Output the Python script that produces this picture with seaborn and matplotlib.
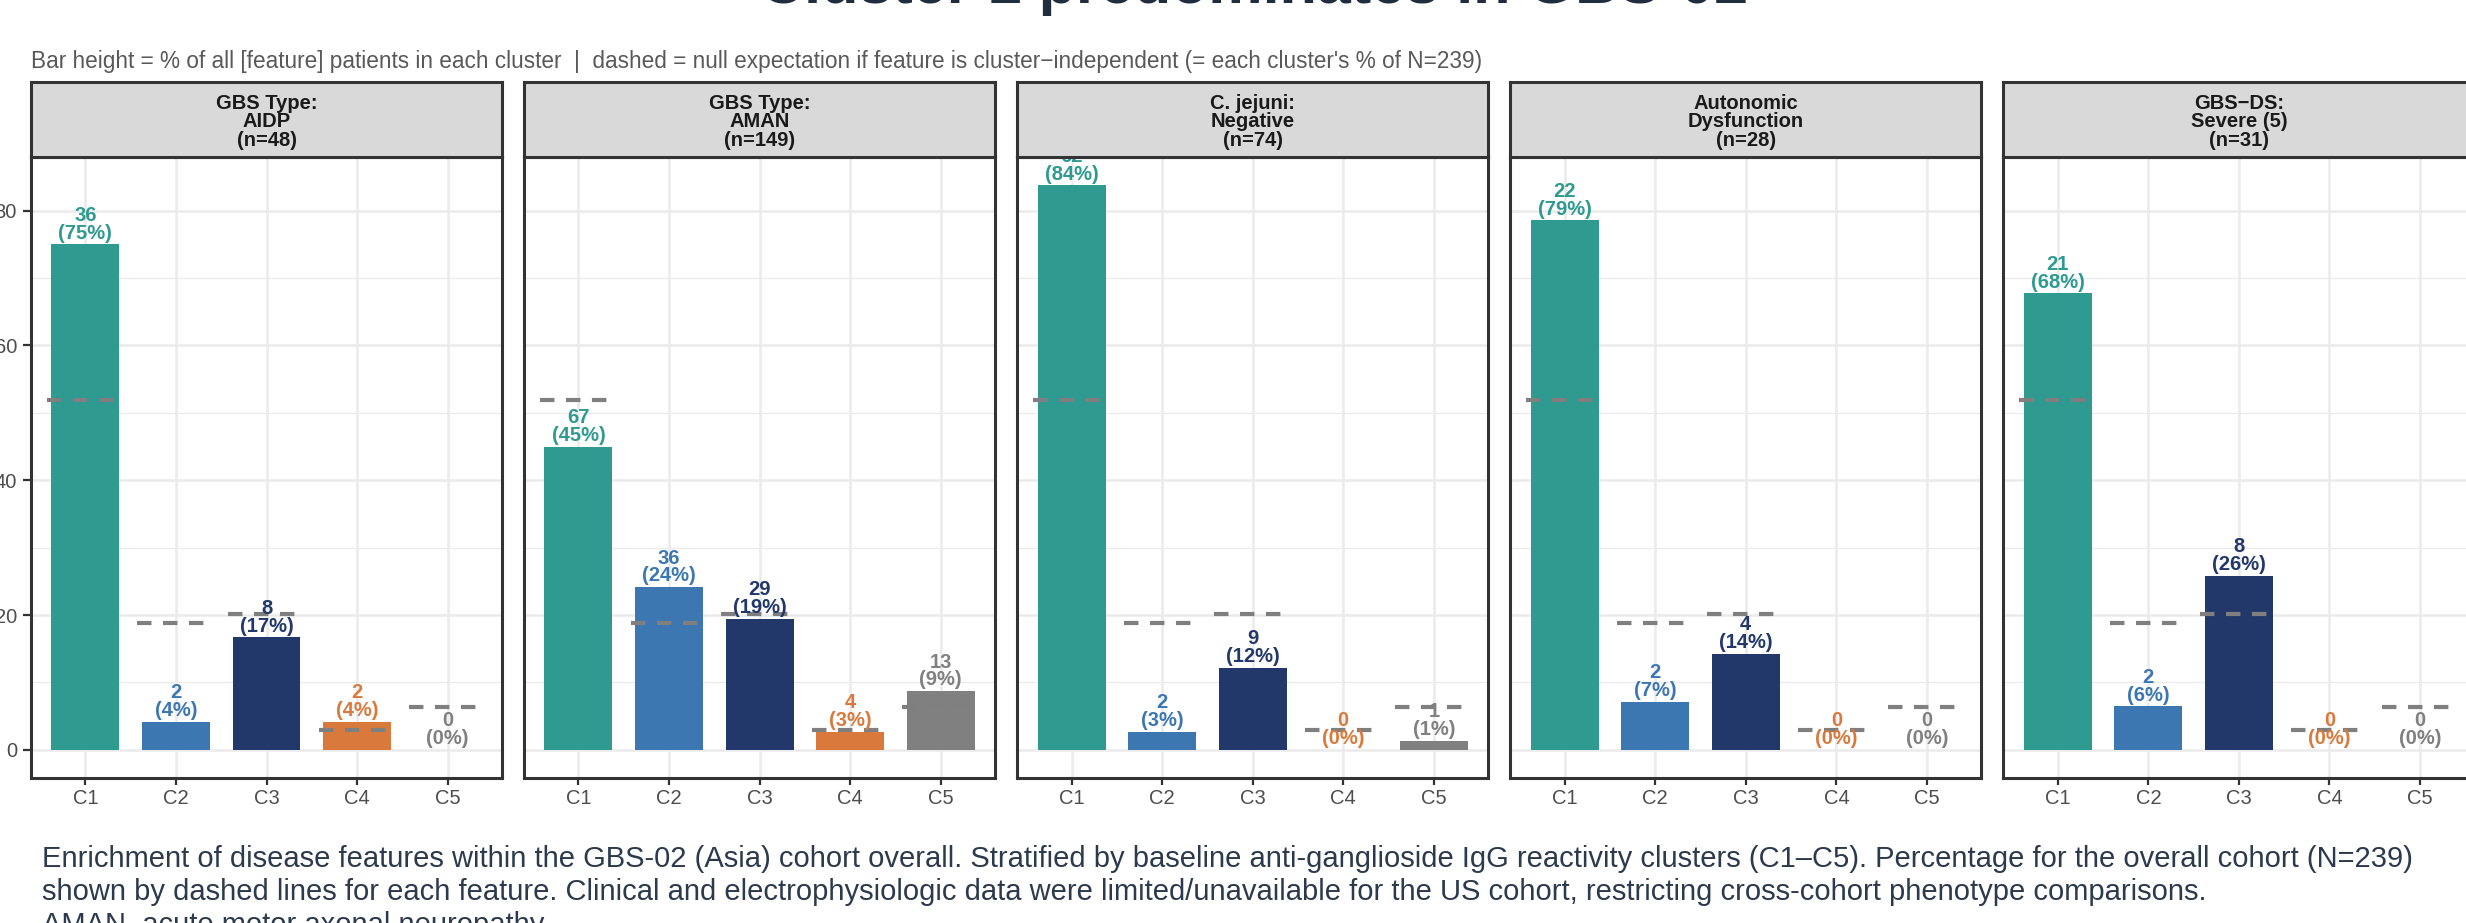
import numpy as np
import pandas as pd
import matplotlib
matplotlib.use("Agg")
import matplotlib.pyplot as plt
import seaborn as sns

# ---- data -------------------------------------------------------------
clusters = ["C1", "C2", "C3", "C4", "C5"]
cluster_colors = ["#2E9A90", "#3D77B2", "#22386A", "#D97A3C", "#808080"]

# overall GBS-02 cohort size per cluster (N=239) -> null expectation
cohort_counts = [124, 45, 48, 7, 15]

feature_labels = [
    "GBS Type:\nAIDP\n(n=48)",
    "GBS Type:\nAMAN\n(n=149)",
    "C. jejuni:\nNegative\n(n=74)",
    "Autonomic\nDysfunction\n(n=28)",
    "GBS\u2212DS:\nSevere (5)\n(n=31)",
]
aidp_counts = [36, 2, 8, 2, 0]
aman_counts = [67, 36, 29, 4, 13]
cjejuni_neg_counts = [62, 2, 9, 0, 1]
autonomic_counts = [22, 2, 4, 0, 0]
gbsds_severe_counts = [21, 2, 8, 0, 0]
feature_counts = [aidp_counts, aman_counts, cjejuni_neg_counts,
                  autonomic_counts, gbsds_severe_counts]

y_ticks = [0, 20, 40, 60, 80]

title = "Cluster 1 predominates in GBS-02"
subtitle = ("Bar height = % of all [feature] patients in each cluster  |  "
            "dashed = null expectation if feature is cluster\u2212independent "
            "(= each cluster's % of N=239)")
caption_lines = [
    "Enrichment of disease features within the GBS-02 (Asia) cohort overall. "
    "Stratified by baseline anti-ganglioside IgG reactivity clusters (C1\u2013C5). "
    "Percentage for the overall cohort (N=239)",
    "shown by dashed lines for each feature. Clinical and electrophysiologic data "
    "were limited/unavailable for the US cohort, restricting cross-cohort phenotype comparisons.",
    "AMAN, acute motor axonal neuropathy.",
]

# ---- tidy table -------------------------------------------------------
rows = []
for lab, counts in zip(feature_labels, feature_counts):
    total = sum(counts)
    for cl, c in zip(clusters, counts):
        rows.append({"feature": lab, "cluster": cl, "count": c,
                     "pct": 100.0 * c / total})
df = pd.DataFrame(rows)
null_pct = 100.0 * np.array(cohort_counts) / sum(cohort_counts)

top = df["pct"].max()
ylim = (-0.05 * top, 1.05 * top)

# ---- style ------------------------------------------------------------
sns.set_style("white")
plt.rcParams["font.family"] = ["Liberation Sans", "DejaVu Sans"]
plt.rcParams["lines.scale_dashes"] = False

W, H = 2466, 923
fig = plt.figure(figsize=(W / 100, H / 100), dpi=100)

panel_left0 = 31
panel_step = 493.1
panel_w = 471
panel_top = 157
panel_bottom = 778
strip_top = 82

border_col = "#333333"
grid_col = "#EBEBEB"

for i, lab in enumerate(feature_labels):
    left = panel_left0 + i * panel_step
    ax = fig.add_axes([left / W, 1 - panel_bottom / H, panel_w / W,
                       (panel_bottom - panel_top) / H])
    sub = df[df["feature"] == lab]
    sns.barplot(data=sub, x="cluster", y="pct", hue="cluster",
                order=clusters, hue_order=clusters, palette=cluster_colors,
                saturation=1, width=0.75, errorbar=None, legend=False,
                linewidth=0, ax=ax)
    ax.set_xlim(-0.6, 4.6)
    ax.set_ylim(*ylim)
    ax.set_yticks(y_ticks)
    ax.set_yticks([10, 30, 50, 70], minor=True)
    ax.grid(which="major", axis="both", color=grid_col, lw=1.8)
    ax.grid(which="minor", axis="y", color=grid_col, lw=0.9)
    ax.set_axisbelow(True)
    ax.set_xlabel("")
    ax.set_ylabel("")
    for sp in ax.spines.values():
        sp.set_visible(True)
        sp.set_color(border_col)
        sp.set_linewidth(2.2)
    ax.tick_params(axis="x", which="major", length=5, width=1.6,
                   color=border_col, labelsize=14.5, labelcolor="#4D4D4D",
                   pad=3.0, bottom=True)
    ax.tick_params(axis="y", which="major", length=5.8, width=1.6,
                   color=border_col, labelsize=14.5, labelcolor="#4D4D4D",
                   pad=4.3, left=(i == 0), labelleft=(i == 0))
    ax.tick_params(axis="y", which="minor", left=False)

    # null expectation: each cluster's share of the whole cohort
    for x, v in enumerate(null_pct):
        ax.plot([x - 0.425, x + 0.425], [v, v], color="#7F7F7F", lw=3.0,
                linestyle=(0, (10.4, 8.3)), dash_capstyle="butt",
                zorder=2.5)

    # count and percentage above each bar
    for j, (_, r) in enumerate(sub.iterrows()):
        ax.annotate(f"{r['count']}\n({r['pct']:.0f}%)", xy=(j, r["pct"]),
                    xytext=(0, 1.2), textcoords="offset points",
                    ha="center", va="bottom", fontsize=14.5,
                    fontweight="bold", color=cluster_colors[j],
                    linespacing=0.92, clip_on=True, zorder=4)

    # facet strip
    sax = fig.add_axes([left / W, 1 - panel_top / H, panel_w / W,
                        (panel_top - strip_top) / H])
    sax.set_facecolor("#D9D9D9")
    sax.set_xticks([])
    sax.set_yticks([])
    for sp in sax.spines.values():
        sp.set_color(border_col)
        sp.set_linewidth(2.2)
    sax.text(0.5, 0.47, lab, ha="center", va="center", fontsize=14.5,
             fontweight="bold", color="#1A1A1A", linespacing=0.98,
             transform=sax.transAxes)

# ---- titles and caption ------------------------------------------------
fig.text(1254 / W, 1 - 3 / H, title, ha="center", va="baseline",
         fontsize=44, fontweight="bold", color="#1F2D3F")
fig.text(31 / W, 1 - 68 / H, subtitle, ha="left", va="baseline",
         fontsize=16.3, color="#595959")
for k, line in enumerate(caption_lines):
    fig.text(42 / W, 1 - (867 + 33 * k) / H, line, ha="left",
             va="baseline", fontsize=21, color="#2B3A4C")

fig.savefig("out.png", dpi=100)
